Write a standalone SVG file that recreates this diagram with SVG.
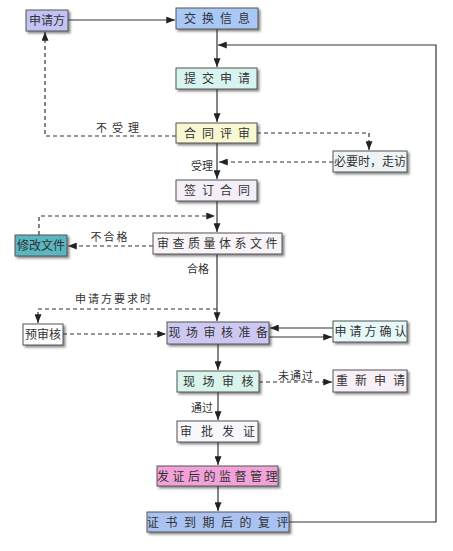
<svg xmlns="http://www.w3.org/2000/svg" width="453" height="551" viewBox="0 0 453 551">
<defs>
<marker id="ah" viewBox="0 0 10 8" refX="10" refY="4" markerWidth="9" markerHeight="7" markerUnits="userSpaceOnUse" orient="auto">
<path d="M0,0 L10,4 L0,8 Z" fill="#222"/>
</marker>
<filter id="sh" x="-10%" y="-20%" width="130%" height="160%">
<feDropShadow dx="2" dy="2" stdDeviation="1.2" flood-color="#333" flood-opacity="0.55"/>
</filter>
<style>
.box{stroke:#555;stroke-width:1;filter:url(#sh);}
.t{font-family:"Liberation Serif","Noto Sans CJK SC",serif;font-size:12px;fill:#333;text-anchor:middle;}
.lb{font-family:"Liberation Serif","Noto Sans CJK SC",serif;font-size:11px;fill:#333;text-anchor:middle;}
.s{fill:none;stroke:#333;stroke-width:1.2;}
.d{fill:none;stroke:#333;stroke-width:1.2;stroke-dasharray:4,3;}
</style>
</defs>
<rect width="453" height="551" fill="#fff"/>

<g id="connectors">
<path class="s" d="M68,20 H175" marker-end="url(#ah)"/>
<path class="s" d="M217,29 V67" marker-end="url(#ah)"/>
<path class="s" d="M289,522 H436 V45 H218" marker-end="url(#ah)"/>
<path class="s" d="M217,89 V122" marker-end="url(#ah)"/>
<path class="d" d="M176,136 H45 V32" marker-end="url(#ah)"/>
<path class="d" d="M257,133 H369 V150" marker-end="url(#ah)"/>
<path class="d" d="M333,162 H219" marker-end="url(#ah)"/>
<path class="s" d="M217,143 V179" marker-end="url(#ah)"/>
<path class="s" d="M217,201 V232" marker-end="url(#ah)"/>
<path class="d" d="M39,235 V216 H215" marker-end="url(#ah)"/>
<path class="d" d="M153,246 H68" marker-end="url(#ah)"/>
<path class="s" d="M217,254 V321" marker-end="url(#ah)"/>
<path class="d" d="M217,309 H38 V323" marker-end="url(#ah)"/>
<path class="d" d="M63,334 H166" marker-end="url(#ah)"/>
<path class="s" d="M333,328 H270" marker-end="url(#ah)"/>
<path class="s" d="M269,337 H332" marker-end="url(#ah)"/>
<path class="s" d="M218,344 V370" marker-end="url(#ah)"/>
<path class="d" d="M259,382 H332" marker-end="url(#ah)"/>
<path class="s" d="M218,392 V420" marker-end="url(#ah)"/>
<path class="s" d="M218,442 V465" marker-end="url(#ah)"/>
<path class="s" d="M218,486 V511" marker-end="url(#ah)"/>
<text class="lb" x="120" y="132" letter-spacing="5">不受理</text>
<text class="lb" x="202" y="170">受理</text>
<text class="lb" x="110" y="241" letter-spacing="2">不合格</text>
<text class="lb" x="198" y="273">合格</text>
<text class="lb" x="114" y="303" letter-spacing="2">申请方要求时</text>
<text class="lb" x="296" y="380" letter-spacing="1">未通过</text>
<text class="lb" x="202" y="412">通过</text>
</g>

<g id="n1"><rect class="box" x="26" y="10" width="42" height="21" fill="#c2c2f4"/><text class="t" x="47" y="25">申请方</text></g>
<g id="n2"><rect class="box" x="176" y="8" width="82" height="21" fill="#a9c8f6"/><text class="t" x="220" y="23" letter-spacing="6">交换信息</text></g>
<g id="n3"><rect class="box" x="176" y="68" width="81" height="21" fill="#d8f4f0"/><text class="t" x="220" y="83" letter-spacing="6">提交申请</text></g>
<g id="n4"><rect class="box" x="176" y="123" width="81" height="20" fill="#f8f8d2"/><text class="t" x="220" y="138" letter-spacing="6">合同评审</text></g>
<g id="n5"><rect class="box" x="333" y="151" width="74" height="21" fill="#eef3f6"/><text class="t" x="370" y="166">必要时，走访</text></g>
<g id="n6"><rect class="box" x="176" y="180" width="81" height="21" fill="#f4eef8"/><text class="t" x="220" y="195" letter-spacing="6">签订合同</text></g>
<g id="n7"><rect class="box" x="15" y="235" width="52" height="21" fill="#5ab6c0"/><text class="t" x="41" y="250">修改文件</text></g>
<g id="n8"><rect class="box" x="153" y="233" width="129" height="21" fill="#f8f4f8"/><text class="t" x="219" y="248" letter-spacing="3.5">审查质量体系文件</text></g>
<g id="n9"><rect class="box" x="23" y="324" width="40" height="21" fill="#fdfdfd"/><text class="t" x="43" y="339">预审核</text></g>
<g id="n10"><rect class="box" x="167" y="322" width="102" height="22" fill="#cdc8f2"/><text class="t" x="221" y="337" letter-spacing="5.5">现场审核准备</text></g>
<g id="n11"><rect class="box" x="333" y="321" width="74" height="21" fill="#e6f8f8"/><text class="t" x="372" y="336" letter-spacing="3">申请方确认</text></g>
<g id="n12"><rect class="box" x="177" y="371" width="82" height="21" fill="#d8f4ec"/><text class="t" x="222" y="386" letter-spacing="7.5">现场审核</text></g>
<g id="n13"><rect class="box" x="333" y="370" width="74" height="22" fill="#f8f0f6"/><text class="t" x="374" y="385" letter-spacing="7">重新申请</text></g>
<g id="n14"><rect class="box" x="177" y="421" width="81" height="21" fill="#f8f8fc"/><text class="t" x="222" y="436" letter-spacing="9">审批发证</text></g>
<g id="n15"><rect class="box" x="157" y="466" width="121" height="20" fill="#f2a2d8"/><text class="t" x="219" y="481" letter-spacing="3.5">发证后的监督管理</text></g>
<g id="n16"><rect class="box" x="147" y="512" width="142" height="20" fill="#a9c2f2"/><text class="t" x="221" y="527" letter-spacing="6.5">证书到期后的复评</text></g>
</svg>
